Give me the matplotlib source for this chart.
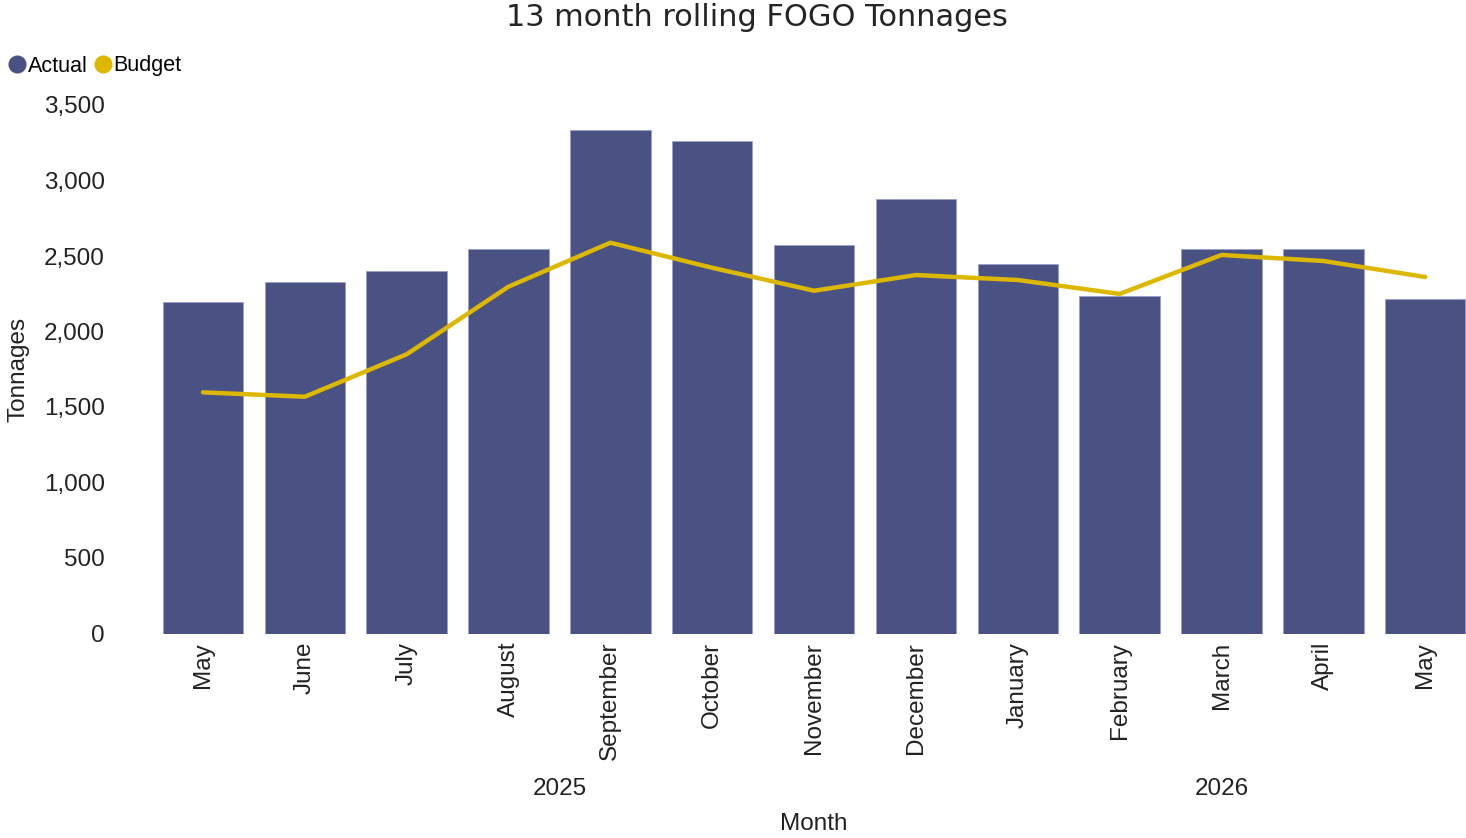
import matplotlib.pyplot as plt
from matplotlib.lines import Line2D
from matplotlib.ticker import FuncFormatter

# Data
months = ["May", "June", "July", "August", "September", "October", "November",
          "December", "January", "February", "March", "April", "May"]
actual = [2193, 2330, 2401, 2544, 3334, 3260, 2575, 2880, 2445, 2233, 2544, 2544, 2215]
budget = [1597, 1568, 1849, 2297, 2588, 2422, 2270, 2374, 2341, 2249, 2507, 2467, 2361]
years = ["2025", "2026"]
year_spans = [(0, 7), (8, 12)]

bar_color = "#4A5183"
line_color = "#DDB800"
text_color = "#222222"
fs = 17.5

plt.rcParams["font.family"] = ["Liberation Sans", "DejaVu Sans"]

fig = plt.figure(figsize=(14.66, 8.38), dpi=100)
W, H = 1466, 838
ax = fig.add_axes([152 / W, 1 - 633.5 / H, (1466 - 152) / W, (633.5 - 105) / H])

x = list(range(len(months)))
ax.bar(x, actual, width=0.79, color=bar_color, edgecolor="#9AA0C8", linewidth=0.6)
ax.plot(x, budget, color=line_color, linewidth=3.2, solid_capstyle="round")

ax.set_xlim(-0.5, 12.4)
ax.set_ylim(0, 3500)
ax.set_yticks(range(0, 3501, 500))
ax.yaxis.set_major_formatter(FuncFormatter(lambda v, p: f"{int(v):,}"))
ax.set_xticks(x)
ax.set_xticklabels(months, rotation=90)
ax.tick_params(axis="both", length=0, labelsize=fs, colors=text_color)
ax.tick_params(axis="y", pad=34)
ax.tick_params(axis="x", pad=6)
for s in ax.spines.values():
    s.set_visible(False)

# Year labels and axis titles
unit = 1314 / 12.9
for yr, (a, b) in zip(years, year_spans):
    xf = (152 + ((a + b) / 2 + 0.5) * unit) / W
    fig.text(xf, 1 - 789 / H, yr, fontsize=fs, ha="center", va="center", color=text_color)
xm = (152 + (6 + 0.5) * unit) / W
fig.text(xm, 1 - 824 / H, "Month", fontsize=fs, ha="center", va="center", color=text_color)
fig.text(19 / W, 1 - 369 / H, "Tonnages", fontsize=fs, rotation=90,
         ha="center", va="center", color=text_color)

fig.text(757 / W, 1 - 18 / H, "13 month rolling FOGO Tonnages", fontsize=21.9,
         ha="center", va="center", color="#252423", family="DejaVu Sans")

handles = [Line2D([], [], marker="o", linestyle="", markersize=12, color=bar_color),
           Line2D([], [], marker="o", linestyle="", markersize=12, color=line_color)]
fig.legend(handles, ["Actual", "Budget"], loc="center left",
           bbox_to_anchor=(0 / W, 1 - 66 / H), ncol=2, frameon=False,
           fontsize=15.5, handletextpad=-0.1, columnspacing=0.1, handlelength=1.2,
           borderpad=0.2, borderaxespad=0)

fig.savefig("out.png", dpi=100)
